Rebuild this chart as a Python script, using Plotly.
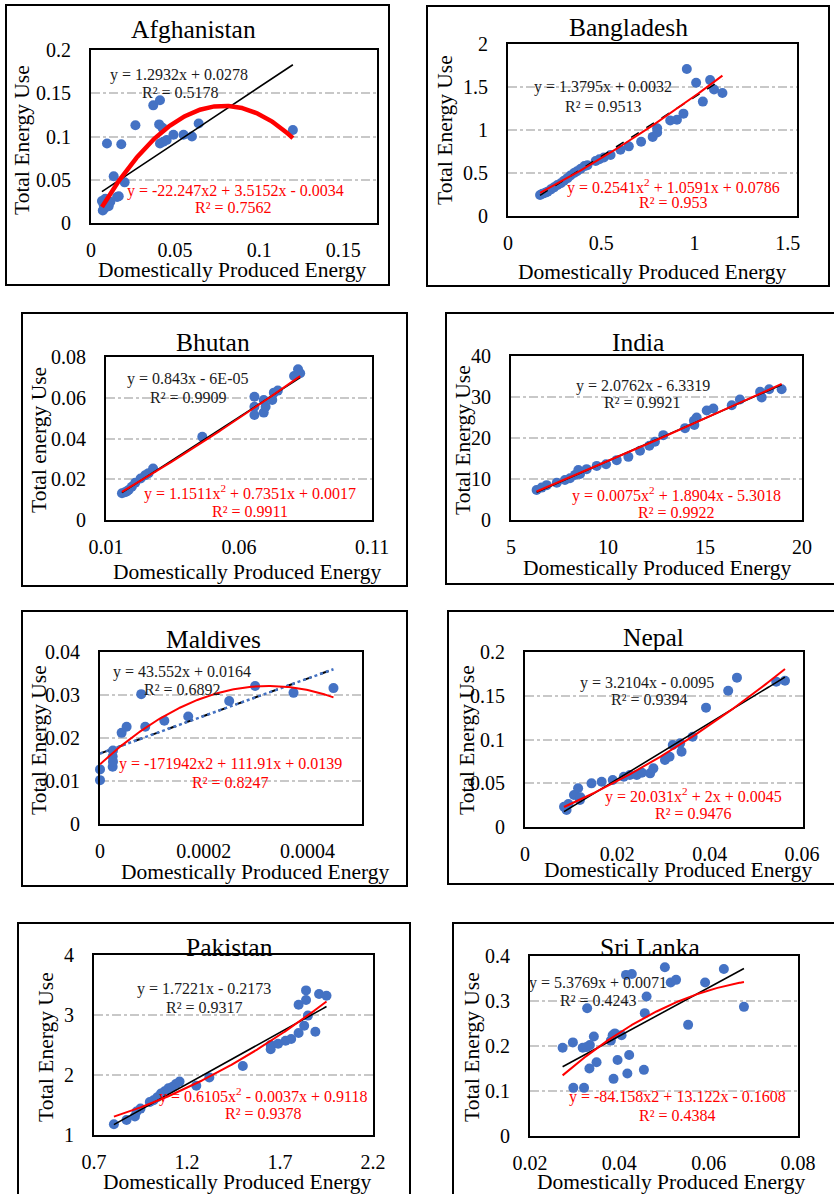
import numpy as np
import plotly.graph_objects as go

FONT = "Liberation Serif, Times New Roman, serif"
W, H = 834, 1194

# ---------------- data ----------------
afg_x = [0.0065, 0.007, 0.008, 0.0075, 0.0085, 0.0095, 0.0105, 0.0115, 0.0135, 0.0155, 0.0165, 0.018, 0.020,
         0.0264, 0.037, 0.041, 0.0405, 0.0425, 0.041, 0.043, 0.045, 0.049, 0.055, 0.060, 0.064, 0.120]
afg_y = [0.0255, 0.0145, 0.017, 0.021, 0.028, 0.092, 0.0195, 0.0245, 0.054, 0.030, 0.031, 0.091, 0.047,
         0.113, 0.136, 0.142, 0.114, 0.110, 0.092, 0.094, 0.096, 0.102, 0.102, 0.100, 0.115, 0.1075]
afg_lin = [1.2932, 0.0278]
afg_quad = [-22.247, 3.5152, -0.0034]

ban_x = [0.172, 0.185, 0.20, 0.212, 0.23, 0.247, 0.265, 0.283, 0.30, 0.319, 0.335, 0.354, 0.37, 0.39, 0.41,
         0.426, 0.47, 0.49, 0.514, 0.55, 0.603, 0.648, 0.714, 0.776, 0.80, 0.80, 0.87, 0.906, 0.941, 0.959,
         1.009, 1.045, 1.084, 1.105, 1.15]
ban_y = [0.244, 0.26, 0.27, 0.283, 0.31, 0.333, 0.36, 0.38, 0.41, 0.44, 0.47, 0.50, 0.52, 0.55, 0.58,
         0.59, 0.64, 0.66, 0.68, 0.71, 0.77, 0.81, 0.864, 0.92, 0.97, 1.02, 1.11, 1.12, 1.19, 1.71,
         1.55, 1.33, 1.58, 1.47, 1.43]
ban_lin = [1.3795, 0.0032]
ban_quad = [0.2541, 1.0591, 0.0786]

bhu_x = [0.016, 0.0171, 0.0178, 0.0185, 0.0197, 0.021, 0.023, 0.0247, 0.026, 0.0277, 0.0462, 0.0658, 0.0658,
         0.0658, 0.0693, 0.0693, 0.070, 0.0725, 0.0731, 0.0746, 0.0807, 0.0822, 0.083]
bhu_y = [0.0131, 0.0136, 0.014, 0.0147, 0.0163, 0.0183, 0.0204, 0.022, 0.023, 0.0253, 0.0409, 0.0605, 0.0556,
         0.0515, 0.0589, 0.0527, 0.0556, 0.0589, 0.0625, 0.0635, 0.0707, 0.074, 0.072]
bhu_lin = [0.843, -0.00006]
bhu_quad = [1.1511, 0.7351, 0.0017]

ind_x = [6.32, 6.58, 6.84, 7.36, 7.78, 8.04, 8.30, 8.47, 8.56, 8.90, 9.42, 9.90, 10.45, 11.05, 11.65, 12.13,
         12.42, 12.85, 13.97, 14.43, 14.57, 14.45, 15.09, 15.43, 16.38, 16.80, 17.84, 17.92, 18.31, 18.95]
ind_y = [7.3, 7.9, 8.5, 9.1, 9.75, 10.2, 11.0, 12.2, 11.2, 12.4, 13.2, 13.6, 14.6, 15.4, 16.9, 18.1,
         19.1, 20.7, 22.4, 24.2, 25.0, 23.2, 26.7, 27.2, 28.0, 29.4, 31.3, 29.9, 31.9, 31.9]
ind_lin = [2.0762, -6.3319]
ind_quad = [0.0075, 1.8904, -5.3018]

mal_x = [0.0, 0.0, 0.0000244, 0.0000244, 0.000025, 0.000025, 0.0000417, 0.0000513, 0.0000795, 0.0000872,
         0.000124, 0.000170, 0.000249, 0.000299, 0.000373, 0.000450]
mal_y = [0.0102, 0.0127, 0.0133, 0.0157, 0.0171, 0.0145, 0.0212, 0.0226, 0.0302, 0.0226,
         0.0240, 0.0250, 0.0286, 0.0321, 0.0305, 0.0316]
mal_lin = [43.552, 0.0164]
mal_quad = [-171942, 111.91, 0.0139]

nep_x = [0.00845, 0.0090, 0.0094, 0.0106, 0.0115, 0.0119, 0.012, 0.0144, 0.0166, 0.0190, 0.0214, 0.0227,
         0.0242, 0.0253, 0.0271, 0.0278, 0.0303, 0.0313, 0.0320, 0.0336, 0.0339, 0.0363, 0.0392, 0.0440,
         0.0459, 0.0544, 0.0563]
nep_y = [0.0232, 0.0194, 0.0263, 0.0366, 0.0442, 0.0309, 0.034, 0.0499, 0.0518, 0.0537, 0.0575, 0.0594,
         0.0594, 0.0621, 0.0613, 0.0670, 0.0766, 0.0804, 0.0937, 0.0956, 0.0861, 0.1032, 0.1364, 0.1558,
         0.1707, 0.1661, 0.1672]
nep_lin = [3.2104, -0.0095]
nep_quad = [20.031, 2.0, 0.0045]

pak_x = [0.807, 0.875, 0.92, 0.929, 0.95, 1.0, 1.02, 1.04, 1.06, 1.08, 1.10, 1.12, 1.14, 1.16, 1.25, 1.32,
         1.50, 1.65, 1.65, 1.69, 1.73, 1.76, 1.80, 1.80, 1.83, 1.84, 1.84, 1.85, 1.89, 1.91, 1.95]
pak_y = [1.18, 1.25, 1.31, 1.39, 1.44, 1.55, 1.58, 1.63, 1.69, 1.73, 1.78, 1.80, 1.85, 1.89, 1.82, 1.96,
         2.15, 2.43, 2.50, 2.52, 2.57, 2.60, 2.70, 3.17, 2.82, 3.41, 3.25, 2.99, 2.72, 3.35, 3.32]
pak_lin = [1.7221, -0.2173]
pak_quad = [0.6105, -0.0037, 0.9118]

sri_x = [0.0273, 0.0296, 0.0297, 0.0318, 0.0321, 0.0327, 0.0334, 0.0328, 0.0333, 0.0343, 0.0349, 0.0381,
         0.0385, 0.0390, 0.0387, 0.0396, 0.0405, 0.0415, 0.0428, 0.0418, 0.0422, 0.0455, 0.0457, 0.0461,
         0.0502, 0.0515, 0.0527, 0.0554, 0.0592, 0.0634, 0.0679]
sri_y = [0.196, 0.208, 0.107, 0.196, 0.107, 0.198, 0.202, 0.284, 0.150, 0.221, 0.164, 0.212,
         0.224, 0.228, 0.127, 0.169, 0.224, 0.358, 0.360, 0.139, 0.180, 0.147, 0.273, 0.310,
         0.375, 0.341, 0.347, 0.247, 0.341, 0.371, 0.287]
sri_lin = [5.3769, 0.0071]
sri_quad = [-84.158, 13.122, -0.1608]

# tick labels
afg_xt = [0, 0.05, 0.1, 0.15]; afg_xl = ["0", "0.05", "0.1", "0.15"]
afg_yt = [0, 0.05, 0.1, 0.15, 0.2]; afg_yl = ["0", "0.05", "0.1", "0.15", "0.2"]
ban_xt = [0, 0.5, 1, 1.5]; ban_xl = ["0", "0.5", "1", "1.5"]
ban_yt = [0, 0.5, 1, 1.5, 2]; ban_yl = ["0", "0.5", "1", "1.5", "2"]
bhu_xt = [0.01, 0.06, 0.11]; bhu_xl = ["0.01", "0.06", "0.11"]
bhu_yt = [0, 0.02, 0.04, 0.06, 0.08]; bhu_yl = ["0", "0.02", "0.04", "0.06", "0.08"]
ind_xt = [5, 10, 15, 20]; ind_xl = ["5", "10", "15", "20"]
ind_yt = [0, 10, 20, 30, 40]; ind_yl = ["0", "10", "20", "30", "40"]
mal_xt = [0, 0.0002, 0.0004]; mal_xl = ["0", "0.0002", "0.0004"]
mal_yt = [0, 0.01, 0.02, 0.03, 0.04]; mal_yl = ["0", "0.01", "0.02", "0.03", "0.04"]
nep_xt = [0, 0.02, 0.04, 0.06]; nep_xl = ["0", "0.02", "0.04", "0.06"]
nep_yt = [0, 0.05, 0.1, 0.15, 0.2]; nep_yl = ["0", "0.05", "0.1", "0.15", "0.2"]
pak_xt = [0.7, 1.2, 1.7, 2.2]; pak_xl = ["0.7", "1.2", "1.7", "2.2"]
pak_yt = [1, 2, 3, 4]; pak_yl = ["1", "2", "3", "4"]
sri_xt = [0.02, 0.04, 0.06, 0.08]; sri_xl = ["0.02", "0.04", "0.06", "0.08"]
sri_yt = [0, 0.1, 0.2, 0.3, 0.4]; sri_yl = ["0", "0.1", "0.2", "0.3", "0.4"]

XTITLE = "Domestically Produced Energy"

panels = [
    dict(name="Afghanistan", x=afg_x, y=afg_y, lin=afg_lin, quad=afg_quad, xr=[0, 0.17], yr=[0, 0.2],
         xt=afg_xt, xl=afg_xl, yt=afg_yt, yl=afg_yl, ytitle="Total Energy Use",
         lin_txt=["y = 1.2932x + 0.0278", "R² = 0.5178"],
         quad_txt=["y = -22.247x2 + 3.5152x - 0.0034", "R² = 0.7562"]),
    dict(name="Bangladesh", x=ban_x, y=ban_y, lin=ban_lin, quad=ban_quad, xr=[0, 1.55], yr=[0, 2],
         xt=ban_xt, xl=ban_xl, yt=ban_yt, yl=ban_yl, ytitle="Total Energy Use",
         lin_txt=["y = 1.3795x + 0.0032", "R² = 0.9513"],
         quad_txt=["y = 0.2541x<sup>2</sup> + 1.0591x + 0.0786", "R² = 0.953"]),
    dict(name="Bhutan", x=bhu_x, y=bhu_y, lin=bhu_lin, quad=bhu_quad, xr=[0.01, 0.11], yr=[0, 0.08],
         xt=bhu_xt, xl=bhu_xl, yt=bhu_yt, yl=bhu_yl, ytitle="Total energy Use",
         lin_txt=["y = 0.843x - 6E-05", "R² = 0.9909"],
         quad_txt=["y = 1.1511x<sup>2</sup> + 0.7351x + 0.0017", "R² = 0.9911"]),
    dict(name="India", x=ind_x, y=ind_y, lin=ind_lin, quad=ind_quad, xr=[5, 20], yr=[0, 40],
         xt=ind_xt, xl=ind_xl, yt=ind_yt, yl=ind_yl, ytitle="Total Energy Use",
         lin_txt=["y = 2.0762x - 6.3319", "R² = 0.9921"],
         quad_txt=["y = 0.0075x<sup>2</sup> + 1.8904x - 5.3018", "R² = 0.9922"]),
    dict(name="Maldives", x=mal_x, y=mal_y, lin=mal_lin, quad=mal_quad, xr=[0, 0.000505], yr=[0, 0.04],
         xt=mal_xt, xl=mal_xl, yt=mal_yt, yl=mal_yl, ytitle="Total Energy Use",
         lin_txt=["y = 43.552x + 0.0164", "R² = 0.6892"],
         quad_txt=["y = -171942x2 + 111.91x + 0.0139", "R² = 0.8247"]),
    dict(name="Nepal", x=nep_x, y=nep_y, lin=nep_lin, quad=nep_quad, xr=[0, 0.0602], yr=[0, 0.2],
         xt=nep_xt, xl=nep_xl, yt=nep_yt, yl=nep_yl, ytitle="Total Energy Use",
         lin_txt=["y = 3.2104x - 0.0095", "R² = 0.9394"],
         quad_txt=["y = 20.031x<sup>2</sup> + 2x + 0.0045", "R² = 0.9476"]),
    dict(name="Pakistan", x=pak_x, y=pak_y, lin=pak_lin, quad=pak_quad, xr=[0.7, 2.2], yr=[1, 4],
         xt=pak_xt, xl=pak_xl, yt=pak_yt, yl=pak_yl, ytitle="Total Energy Use",
         lin_txt=["y = 1.7221x - 0.2173", "R² = 0.9317"],
         quad_txt=["y = 0.6105x<sup>2</sup> - 0.0037x + 0.9118", "R² = 0.9378"]),
    dict(name="Sri Lanka", x=sri_x, y=sri_y, lin=sri_lin, quad=sri_quad, xr=[0.02, 0.08], yr=[0, 0.4],
         xt=sri_xt, xl=sri_xl, yt=sri_yt, yl=sri_yl, ytitle="Total Energy Use",
         lin_txt=["y = 5.3769x + 0.0071", "R² = 0.4243"],
         quad_txt=["y = -84.158x2 + 13.122x - 0.1608", "R² = 0.4384"]),
]

# ---------------- layout geometry (pixels) ----------------
geom = [
    dict(outer=(6, 5, 389, 285), box=(91, 50, 377, 223), title=(193, 30), yt=(22, 140), xt=(232, 270),
         lin=[(179, 75), (180, 93)], quad=[(235, 191), (233, 208)], lstyle="solid", qwidth=4.5),
    dict(outer=(427, 6, 829, 286), box=(508, 44, 797, 216), title=(628, 27), yt=(445, 130), xt=(652, 272),
         lin=[(603, 87), (603, 106)], quad=[(673, 186), (673, 203)], lstyle="dash", qwidth=2),
    dict(outer=(22, 313, 407, 586), box=(106, 357, 372, 520), title=(213, 342), yt=(39, 440), xt=(247, 572),
         lin=[(187, 379), (188, 397)], quad=[(250, 493), (250, 511)], lstyle="solid", qwidth=2),
    dict(outer=(446, 313, 840, 584), box=(511, 356, 802, 520), title=(638, 342), yt=(463, 440), xt=(657, 568),
         lin=[(643, 386), (642, 403)], quad=[(676, 494), (676, 512)], lstyle="solid", qwidth=2),
    dict(outer=(22, 611, 407, 886), box=(100, 652, 362, 824), title=(213, 639), yt=(39, 740), xt=(255, 872),
         lin=[(182, 672), (182, 689)], quad=[(230, 764), (230, 782)], lstyle="dashdot_blue", qwidth=2),
    dict(outer=(448, 611, 840, 884), box=(525, 652, 803, 827), title=(653, 637), yt=(467, 740), xt=(678, 870),
         lin=[(647, 683), (649, 700)], quad=[(693, 795), (693, 813)], lstyle="solid", qwidth=2),
    dict(outer=(18, 923, 410, 1210), box=(94, 955, 373, 1135), title=(229, 947), yt=(46, 1047), xt=(237, 1182),
         lin=[(204, 989), (204, 1007)], quad=[(263, 1095), (263, 1113)], lstyle="solid", qwidth=2),
    dict(outer=(453, 923, 840, 1210), box=(530, 956, 798, 1136), title=(650, 947), yt=(472, 1047), xt=(671, 1182),
         lin=[(598, 983), (598, 1001)], quad=[(677, 1097), (677, 1115)], lstyle="solid", qwidth=2),
]


def px(v):
    return v / W


def py(v):
    return 1 - v / H


fig = go.Figure()
annotations = []
shapes = []
layout_axes = {}

for i, (p, g) in enumerate(zip(panels, geom), start=1):
    xa = "x" if i == 1 else f"x{i}"
    ya = "y" if i == 1 else f"y{i}"
    xs = np.array(p["x"], dtype=float)
    ys = np.array(p["y"], dtype=float)
    xl = np.linspace(xs.min(), xs.max(), 200)

    fig.add_trace(go.Scatter(x=xs, y=ys, mode="markers", xaxis=xa, yaxis=ya, cliponaxis=False,
                             marker=dict(color="#4472C4", size=10), showlegend=False, hoverinfo="skip"))
    lin_y = np.polyval(p["lin"], xl)
    if g["lstyle"] == "dash":
        fig.add_trace(go.Scatter(x=xl, y=lin_y, mode="lines", xaxis=xa, yaxis=ya, showlegend=False,
                                 line=dict(color="black", width=1.5, dash="dash")))
    elif g["lstyle"] == "dashdot_blue":
        fig.add_trace(go.Scatter(x=xl, y=lin_y, mode="lines", xaxis=xa, yaxis=ya, showlegend=False,
                                 line=dict(color="black", width=2, dash="dash")))
        fig.add_trace(go.Scatter(x=xl, y=lin_y, mode="lines", xaxis=xa, yaxis=ya, showlegend=False,
                                 line=dict(color="#4472C4", width=2.5, dash="dot")))
    else:
        fig.add_trace(go.Scatter(x=xl, y=lin_y, mode="lines", xaxis=xa, yaxis=ya, showlegend=False,
                                 line=dict(color="black", width=1.6)))
    quad_y = np.polyval(p["quad"], xl)
    fig.add_trace(go.Scatter(x=xl, y=quad_y, mode="lines", xaxis=xa, yaxis=ya, showlegend=False,
                             line=dict(color="#FF0000", width=g["qwidth"])))

    bx0, by0, bx1, by1 = g["box"]
    tickfont = dict(family=FONT, size=20, color="black")
    layout_axes["xaxis" if i == 1 else f"xaxis{i}"] = dict(
        domain=[px(bx0), px(bx1)], anchor=ya, range=p["xr"], tickvals=p["xt"], ticktext=p["xl"],
        showgrid=False, zeroline=False, showline=True, mirror=True, linecolor="black", linewidth=2,
        ticks="", tickfont=tickfont, ticklabelstandoff=8, fixedrange=True, automargin=False)
    layout_axes["yaxis" if i == 1 else f"yaxis{i}"] = dict(
        domain=[py(by1), py(by0)], anchor=xa, range=p["yr"], tickvals=p["yt"], ticktext=p["yl"],
        showgrid=True, gridcolor="#C8C8C8", gridwidth=1.5, griddash="dashdot", zeroline=False,
        showline=True, mirror=True, linecolor="black", linewidth=2,
        ticks="", tickfont=tickfont, ticklabelstandoff=14, fixedrange=True, automargin=False)

    ox0, oy0, ox1, oy1 = g["outer"]
    shapes.append(dict(type="rect", xref="paper", yref="paper", x0=px(ox0), x1=px(ox1), y0=py(oy1), y1=py(oy0),
                       line=dict(color="black", width=2), fillcolor="rgba(0,0,0,0)", layer="above"))

    def ann(text, pos, size, color="black", angle=0):
        annotations.append(dict(text=text, x=px(pos[0]), y=py(pos[1]), xref="paper", yref="paper",
                                xanchor="center", yanchor="middle", showarrow=False, textangle=angle,
                                font=dict(family=FONT, size=size, color=color)))

    ann(p["name"], g["title"], 25.5)
    ann(p["ytitle"], g["yt"], 21.5, angle=-90)
    ann(XTITLE, g["xt"], 21.5)
    for t, pos in zip(p["lin_txt"], g["lin"]):
        ann(t, pos, 16, color="#1a1a1a")
    for t, pos in zip(p["quad_txt"], g["quad"]):
        ann(t, pos, 16, color="#FF0000")

fig.update_layout(width=W, height=H, margin=dict(l=0, r=0, t=0, b=0, pad=0, autoexpand=False),
                  paper_bgcolor="white", plot_bgcolor="white", showlegend=False,
                  annotations=annotations, shapes=shapes, font=dict(family=FONT), **layout_axes)

fig.write_html("out.html", config={"displayModeBar": False},
               post_script="document.body.style.margin='0';document.body.style.overflow='hidden';")
